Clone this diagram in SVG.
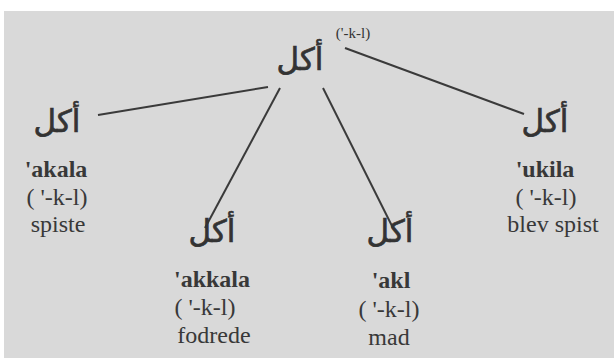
<svg xmlns="http://www.w3.org/2000/svg" width="614" height="358" viewBox="0 0 614 358">
<style>
.ar{font-family:"DejaVu Sans",sans-serif;font-size:31px;fill:#333;stroke:#333;stroke-width:0.7;text-anchor:middle}
.lat{font-family:"Liberation Serif",serif;font-size:24px;fill:#383838;text-anchor:middle}
.b{font-weight:bold}
.con line{stroke:#3a3a3a;stroke-width:2}
</style>
<rect width="614" height="358" fill="#fff"/>
<rect x="4" y="11" width="610" height="347" fill="#d9d9d9"/>
<g class="con">
<line x1="98" y1="115" x2="268" y2="87"/>
<line x1="280" y1="88" x2="205" y2="228"/>
<line x1="323" y1="88" x2="393" y2="228"/>
<line x1="345" y1="48" x2="524" y2="114"/>
</g>
<g id="root">
<text class="ar" x="300" y="70">أكل</text>
<text x="353" y="38" style="font-family:'Liberation Serif',serif;font-size:15px;fill:#333;text-anchor:middle">('-k-l)</text>
</g>
<g id="n1">
<text class="ar" x="57" y="132">أكل</text>
<text class="lat b" x="56" y="177">'akala</text>
<text class="lat" x="57" y="205">( '-k-l)</text>
<text class="lat" x="58" y="232">spiste</text>
</g>
<g id="n2">
<text class="ar" x="212" y="242">أكل</text>
<text class="lat b" x="212" y="287">'akkala</text>
<text class="lat" x="205" y="315">( '-k-l)</text>
<text class="lat" x="214" y="343">fodrede</text>
</g>
<g id="n3">
<text class="ar" x="390" y="242">أكل</text>
<text class="lat b" x="391" y="288">'akl</text>
<text class="lat" x="389" y="317">( '-k-l)</text>
<text class="lat" x="389" y="345">mad</text>
</g>
<g id="n4">
<text class="ar" x="545" y="132">أكل</text>
<text class="lat b" x="545" y="177">'ukila</text>
<text class="lat" x="546" y="205">( '-k-l)</text>
<text class="lat" x="553" y="232">blev spist</text>
</g>
</svg>
